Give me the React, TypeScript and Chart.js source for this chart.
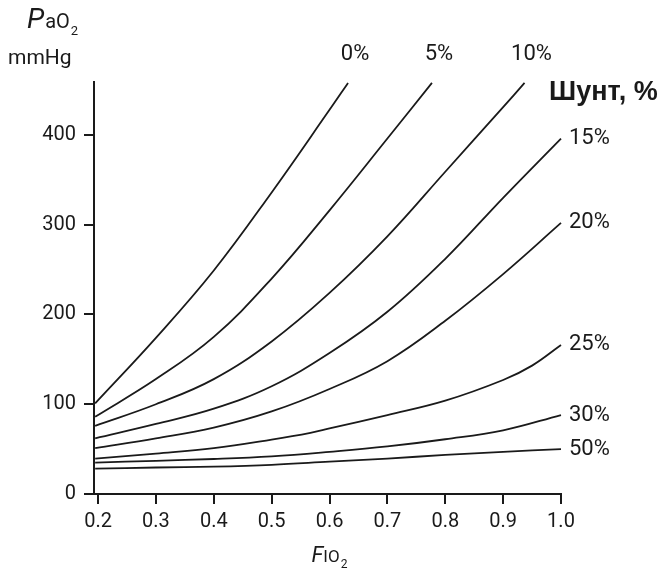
import React, { useEffect, useRef } from "react";
import { Chart, registerables } from "chart.js";

Chart.register(...registerables);

// Shunt curves: FiO2 (x) vs PaO2 mmHg (y)
const SHUNT_LABELS = ["0%", "5%", "10%", "15%", "20%", "25%", "30%", "50%"];

const X_0 = [0.195, 0.3, 0.4, 0.5, 0.6, 0.632];
const Y_0 = [101, 174, 249, 336, 428, 458];

const X_5 = [0.195, 0.3, 0.4, 0.5, 0.6, 0.7, 0.777];
const Y_5 = [86, 128, 175, 240, 316, 396, 458];

const X_10 = [0.195, 0.3, 0.4, 0.5, 0.6, 0.7, 0.8, 0.9, 0.937];
const Y_10 = [76, 100, 128, 170, 224, 287, 359, 431, 458];

const X_15 = [0.195, 0.3, 0.4, 0.5, 0.6, 0.7, 0.8, 0.9, 1.0];
const Y_15 = [62, 78, 95, 120, 157, 203, 262, 330, 396];

const X_20 = [0.195, 0.3, 0.4, 0.5, 0.6, 0.7, 0.8, 0.9, 1.0];
const Y_20 = [51, 62, 74, 92, 117, 148, 193, 245, 302];

const X_25 = [0.195, 0.3, 0.4, 0.5, 0.567, 0.6, 0.7, 0.8, 0.9, 0.95, 1.0];
const Y_25 = [39.5, 45, 51, 60.5, 68, 73, 88, 104, 127, 143, 166];

const X_30 = [0.195, 0.3, 0.4, 0.5, 0.6, 0.7, 0.8, 0.9, 1.0];
const Y_30 = [35, 37, 39, 42, 47, 53, 61, 71, 88];

const X_50 = [0.195, 0.3, 0.4, 0.5, 0.6, 0.7, 0.8, 0.9, 1.0];
const Y_50 = [28.3, 29.5, 30.5, 32.5, 36, 39.5, 43.5, 47, 50];

const SERIES_X = [X_0, X_5, X_10, X_15, X_20, X_25, X_30, X_50];
const SERIES_Y = [Y_0, Y_5, Y_10, Y_15, Y_20, Y_25, Y_30, Y_50];

const X_TICKS = [0.2, 0.3, 0.4, 0.5, 0.6, 0.7, 0.8, 0.9, 1.0];
const Y_TICKS = [0, 100, 200, 300, 400];

const X_MIN = 0.193;
const X_MAX = 1.0;
const Y_MIN = 0;
const Y_MAX = 459;

const INK = "#1a1a1a";
const FONT = "Roboto";

const labelPlugin = {
  id: "shuntLabels",
  afterDraw(chart: any) {
    const ctx = chart.ctx;
    ctx.save();
    ctx.fillStyle = INK;
    // line-end labels
    SHUNT_LABELS.forEach((lab, i) => {
      const meta = chart.getDatasetMeta(i);
      const pt = meta.data[meta.data.length - 1];
      if (!pt) return;
      ctx.font = `22px ${FONT}`;
      if (i < 3) {
        ctx.textAlign = "center";
        ctx.textBaseline = "middle";
        ctx.fillText(lab, pt.x + 7, pt.y - 28);
      } else {
        ctx.textAlign = "left";
        ctx.textBaseline = "middle";
        ctx.fillText(lab, pt.x + 8, pt.y);
      }
    });
    // legend title
    ctx.font = `bold 27px "Liberation Sans"`;
    ctx.textAlign = "left";
    ctx.textBaseline = "middle";
    ctx.fillText("Шунт, %", 549, 93);

    // Y title: PaO2 / mmHg
    ctx.textBaseline = "alphabetic";
    ctx.font = `italic 28px ${FONT}`;
    ctx.fillText("P", 27, 28);
    const pw = ctx.measureText("P").width;
    ctx.font = `20px ${FONT}`;
    ctx.fillText("aO", 27 + pw + 1, 28);
    const aw = ctx.measureText("aO").width;
    ctx.font = `13px ${FONT}`;
    ctx.fillText("2", 27 + pw + 1 + aw + 1, 35);
    ctx.font = `21px ${FONT}`;
    ctx.fillText("mmHg", 8, 64);

    // X title: FIO2
    const ca = chart.chartArea;
    const cx = (ca.left + ca.right) / 2;
    ctx.font = `italic 22px ${FONT}`;
    const fw = ctx.measureText("F").width;
    ctx.font = `17px ${FONT}`;
    const iw = ctx.measureText("IO").width;
    ctx.font = `12px ${FONT}`;
    const sw = ctx.measureText("2").width;
    const total = fw + iw + sw + 1;
    let x0 = cx - total / 2 + 2;
    ctx.font = `italic 22px ${FONT}`;
    ctx.fillText("F", x0, 562);
    ctx.font = `17px ${FONT}`;
    ctx.fillText("IO", x0 + fw, 562);
    ctx.font = `12px ${FONT}`;
    ctx.fillText("2", x0 + fw + iw + 1, 568);
    ctx.restore();
  },
};

export default function App() {
  const ref = useRef<HTMLCanvasElement | null>(null);

  useEffect(() => {
    if (!ref.current) return;
    const datasets = SERIES_X.map((xs, i) => ({
      label: SHUNT_LABELS[i],
      data: xs.map((x, j) => ({ x, y: SERIES_Y[i][j] })),
      borderColor: INK,
      borderWidth: 1.8,
      pointRadius: 0,
      fill: false,
      tension: 0.4,
      clip: false as any,
    }));

    const chart = new Chart(ref.current, {
      type: "line",
      data: { datasets },
      plugins: [labelPlugin],
      options: {
        responsive: false,
        animation: false,
        layout: { padding: { left: 0, top: 82, right: 103, bottom: 0 } },
        plugins: { legend: { display: false }, tooltip: { enabled: false } },
        scales: {
          x: {
            type: "linear",
            min: X_MIN,
            max: X_MAX,
            afterBuildTicks: (scale: any) => {
              scale.ticks = X_TICKS.map((v) => ({ value: v }));
            },
            afterFit: (scale: any) => {
              scale.height = 75;
              scale.paddingLeft = 0;
              scale.paddingRight = 0;
            },
            ticks: {
              color: INK,
              font: { family: FONT, size: 20 },
              padding: 6,
              maxRotation: 0,
              autoSkip: false,
              callback: (v: any) => Number(v).toFixed(1),
            },
            grid: {
              drawOnChartArea: false,
              drawTicks: true,
              tickLength: 10,
              color: INK,
              lineWidth: 2,
            },
            border: { color: INK, width: 2 },
          },
          y: {
            type: "linear",
            min: Y_MIN,
            max: Y_MAX,
            afterBuildTicks: (scale: any) => {
              scale.ticks = Y_TICKS.map((v) => ({ value: v }));
            },
            afterFit: (scale: any) => {
              scale.width = 94;
              scale.paddingTop = 0;
              scale.paddingBottom = 0;
            },
            ticks: {
              color: INK,
              font: { family: FONT, size: 20 },
              padding: 8,
              autoSkip: false,
            },
            grid: {
              drawOnChartArea: false,
              drawTicks: true,
              tickLength: 10,
              color: INK,
              lineWidth: 2,
            },
            border: { color: INK, width: 2 },
          },
        },
      },
    });
    return () => chart.destroy();
  }, []);

  return (
    <div style={{ position: "fixed", left: 0, top: 0, width: 664, height: 569, background: "#fff" }}>
      <canvas ref={ref} width={664} height={569} />
    </div>
  );
}
